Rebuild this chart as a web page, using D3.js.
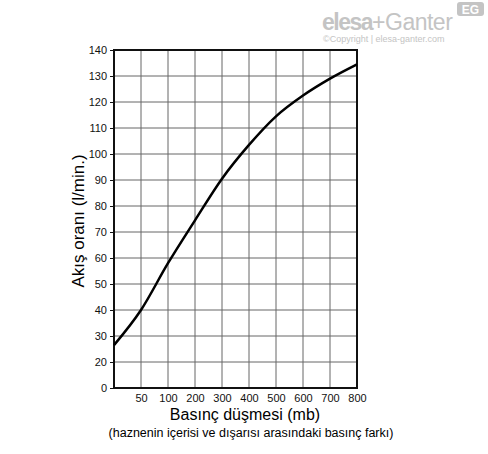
<!DOCTYPE html>
<html>
<head>
<meta charset="utf-8">
<script src="https://cdn.jsdelivr.net/npm/d3@7"></script>
<style>
  body { margin: 0; background: #fff; }
  svg { display: block; font-family: "Liberation Sans", Arial, sans-serif; }
  .grid line { stroke: #666; stroke-width: 1; }
  .axis path { display: none; }
  .axis text { font-size: 11px; fill: #111; }
</style>
</head>
<body>
<script>
// pressure drop categories (x) - the axis is not linear, each step is one column
var pressure = [0, 50, 100, 200, 300, 400, 500, 600, 700, 800];
// flow rate (l/min)
var flow = [26.5, 40, 58, 74.5, 90.5, 103.5, 114.5, 122.5, 129, 134.5];
// y tick labels (10 is not drawn, first row spans 0-20)
var yTicks = [0, 20, 30, 40, 50, 60, 70, 80, 90, 100, 110, 120, 130, 140];

var margin = { top: 50, right: 131, bottom: 66, left: 114 },
    width = 488 - margin.left - margin.right,
    height = 454 - margin.top - margin.bottom;

var rowH = height / (yTicks.length - 1);

var x = d3.scalePoint().domain(pressure).range([0, width]);
var y = d3.scaleLinear().domain([0, 20, 140]).range([height, height - rowH, 0]);

var svg = d3.select("body").append("svg")
    .attr("width", 488)
    .attr("height", 454);

var g = svg.append("g")
    .attr("transform", "translate(" + margin.left + "," + margin.top + ")");

// grid
g.append("g").attr("class", "grid")
    .selectAll("line").data(yTicks).enter().append("line")
    .attr("x1", 0).attr("x2", width)
    .attr("y1", function (d) { return y(d); })
    .attr("y2", function (d) { return y(d); });

g.append("g").attr("class", "grid")
    .selectAll("line").data(pressure).enter().append("line")
    .attr("y1", 0).attr("y2", height)
    .attr("x1", function (d) { return x(d); })
    .attr("x2", function (d) { return x(d); });

// axes
g.append("g").attr("class", "axis")
    .call(d3.axisLeft(y).tickValues(yTicks).tickSize(4).tickPadding(3))
    .selectAll("line").attr("stroke", "#111");

g.append("g").attr("class", "axis")
    .attr("transform", "translate(0," + height + ")")
    .call(d3.axisBottom(x).tickValues(pressure.slice(1)).tickSize(0).tickPadding(6));

// frame
g.append("rect")
    .attr("width", width).attr("height", height)
    .attr("fill", "none").attr("stroke", "#111").attr("stroke-width", 2);

// curve
var flowline = d3.line()
    .x(function (d, i) { return x(pressure[i]); })
    .y(function (d) { return y(d); })
    .curve(d3.curveMonotoneX);

g.append("path")
    .datum(flow)
    .attr("fill", "none")
    .attr("stroke", "#000")
    .attr("stroke-width", 2.5)
    .attr("d", flowline);

// axis titles
svg.append("text")
    .attr("transform", "translate(84,221) rotate(-90)")
    .attr("text-anchor", "middle")
    .style("font-size", "17px")
    .text("Akış oranı (l/min.)");

svg.append("text")
    .attr("x", 245).attr("y", 420)
    .attr("text-anchor", "middle")
    .style("font-size", "16px")
    .text("Basınç düşmesi (mb)");

svg.append("text")
    .attr("x", 251).attr("y", 437)
    .attr("text-anchor", "middle")
    .style("font-size", "12.5px")
    .text("(haznenin içerisi ve dışarısı arasındaki basınç farkı)");

// logo
var logo = svg.append("g").attr("fill", "#c4c4c4");
logo.append("text")
    .attr("x", 322).attr("y", 30)
    .style("font-size", "23px")
    .html('<tspan font-weight="bold" letter-spacing="-1.5">elesa</tspan><tspan letter-spacing="-0.5">+Ganter</tspan>');
logo.append("text")
    .attr("x", 323).attr("y", 42)
    .style("font-size", "9px")
    .text("©Copyright | elesa-ganter.com");
logo.append("rect")
    .attr("x", 457).attr("y", 2).attr("width", 27).attr("height", 14).attr("rx", 3);
logo.append("text")
    .attr("x", 470.5).attr("y", 13.5)
    .attr("text-anchor", "middle")
    .attr("fill", "#fff")
    .style("font-size", "12px").style("font-weight", "bold")
    .text("EG");
</script>
</body>
</html>
